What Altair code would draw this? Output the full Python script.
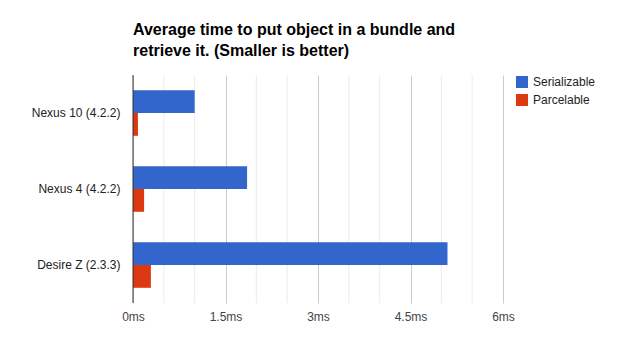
import altair as alt
import pandas as pd

devices = ["Nexus 10 (4.2.2)", "Nexus 4 (4.2.2)", "Desire Z (2.3.3)"]
series = ["Serializable", "Parcelable"]
serializable = [1.0, 1.85, 5.1]
parcelable = [0.08, 0.18, 0.29]
major_ticks = [0, 1.5, 3, 4.5, 6]
minor_ticks = [0.5, 1, 2, 2.5, 3.5, 4, 5, 5.5]
baseline = [0]
colors = ["#3366cc", "#dc3912"]

rows = []
for d, s, p in zip(devices, serializable, parcelable):
    rows.append({"device": d, "series": series[0], "value": s})
    rows.append({"device": d, "series": series[1], "value": p})
df = pd.DataFrame(rows)
minor_df = pd.DataFrame({"v": minor_ticks})
base_df = pd.DataFrame({"v": baseline})

FONT = "Liberation Sans"

x_scale = alt.Scale(domain=[0, 6], nice=False, zero=True)
x_axis = alt.Axis(
    values=major_ticks,
    labelExpr="datum.value + 'ms'",
    title=None,
    domain=False,
    ticks=False,
    grid=True,
    gridColor="#cccccc",
    labelColor="#444444",
    labelFontSize=12,
    labelFont=FONT,
    labelPadding=8,
    labelFlush=False,
)

minor = alt.Chart(minor_df).mark_rule(color="#ebebeb", strokeWidth=1).encode(
    x=alt.X("v:Q", scale=x_scale, axis=x_axis)
)

bars = alt.Chart(df).mark_bar().encode(
    x=alt.X("value:Q", scale=x_scale, axis=x_axis),
    y=alt.Y(
        "device:N",
        sort=devices,
        scale=alt.Scale(paddingInner=0.4, paddingOuter=0.2),
        axis=alt.Axis(
            title=None,
            ticks=False,
            domain=False,
            grid=False,
            labelColor="#222222",
            labelFontSize=12,
            labelFont=FONT,
            labelPadding=13,
        ),
    ),
    yOffset=alt.YOffset("series:N", sort=series),
    color=alt.Color(
        "series:N",
        sort=series,
        scale=alt.Scale(domain=series, range=colors),
        legend=alt.Legend(
            title=None,
            orient="none",
            legendX=383,
            legendY=1,
            symbolType="square",
            symbolSize=144,
            symbolStrokeWidth=0,
            labelFontSize=12,
            labelFont=FONT,
            labelColor="#222222",
            rowPadding=6,
            labelOffset=5,
        ),
    ),
)

zero_line = alt.Chart(base_df).mark_rule(color="#333333", strokeWidth=1).encode(
    x=alt.X("v:Q", scale=x_scale, axis=x_axis)
)

chart = alt.layer(minor, bars, zero_line).properties(
    width=370,
    height=228,
    background="white",
    autosize=alt.AutoSizeParams(type="none"),
    padding={"left": 133, "top": 75, "right": 116, "bottom": 50},
    title=alt.TitleParams(
        text=["Average time to put object in a bundle and", "retrieve it. (Smaller is better)"],
        anchor="start",
        frame="group",
        offset=16,
        font=FONT,
        fontSize=16,
        fontWeight="bold",
        color="#000000",
        lineHeight=21,
    ),
).configure_view(strokeWidth=0, stroke="transparent").configure_axis(domain=False)

chart.save("out.html", embed_options={"renderer": "svg", "actions": False})
